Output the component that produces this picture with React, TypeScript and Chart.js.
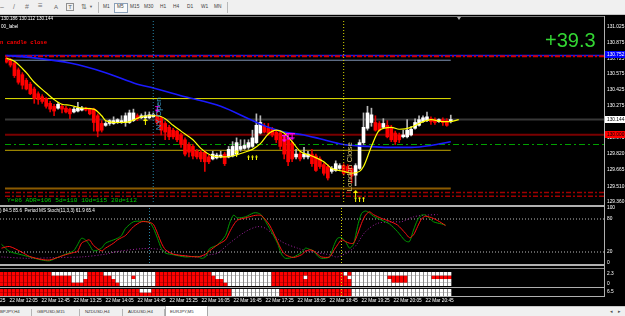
import React, { useEffect, useRef } from "react";
import { Chart, registerables } from "chart.js";

Chart.register(...registerables);

// ---------------- data (EURJPY M5, bar 0 = 22 Mar 11:55) ----------------
const candleOpen = [
  130.725,130.707,130.680,130.616,130.570,130.516,130.480,130.434,130.389,130.361,
  130.343,130.298,130.270,130.252,130.270,130.252,130.243,130.216,130.225,130.234,
  130.252,130.243,130.243,130.180,130.107,130.089,130.107,130.107,130.116,130.116,
  130.116,130.116,130.134,130.180,130.161,130.161,130.161,130.170,130.180,130.161,
  130.107,130.070,130.043,130.034,129.998,129.952,129.907,129.889,129.843,129.834,
  129.834,129.789,129.770,129.780,129.789,129.816,129.789,129.798,129.816,129.861,
  129.870,129.880,129.889,129.925,130.016,130.080,130.061,130.052,130.025,130.016,
  129.980,129.952,129.925,129.789,129.816,129.789,129.789,129.816,129.798,129.770,
  129.716,129.698,129.652,129.661,129.680,129.707,129.698,129.680,129.616,129.680,
  129.925,130.061,130.116,130.116,130.107,130.070,130.089,130.070,130.016,129.998,
  129.980,129.980,129.998,130.061,130.089,130.125,130.134,130.152,130.143,130.125,
  130.143,130.134,130.125,
];
const candleHigh = [
  130.743,130.725,130.698,130.634,130.589,130.534,130.498,130.452,130.407,130.380,
  130.352,130.316,130.289,130.307,130.289,130.270,130.252,130.261,130.307,130.270,
  130.261,130.252,130.252,130.198,130.134,130.125,130.143,130.170,130.152,130.180,
  130.207,130.234,130.243,130.198,130.198,130.216,130.216,130.207,130.198,130.170,
  130.125,130.089,130.061,130.043,130.016,129.970,129.925,129.907,129.861,129.852,
  129.852,129.807,129.843,129.825,129.843,129.834,129.889,129.934,129.970,129.952,
  129.952,129.952,130.043,130.198,130.180,130.107,130.107,130.070,130.043,130.034,
  129.998,129.970,129.943,129.861,129.834,129.880,129.843,129.861,129.816,129.789,
  129.734,129.716,129.698,129.752,129.725,129.725,129.716,129.698,129.725,129.952,
  130.207,130.270,130.252,130.180,130.125,130.152,130.134,130.089,130.034,130.016,
  130.043,130.143,130.080,130.152,130.180,130.180,130.216,130.170,130.161,130.152,
  130.161,130.152,130.186,
];
const candleLow = [
  130.680,130.643,130.543,130.480,130.434,130.425,130.380,130.298,130.289,130.298,
  130.252,130.216,130.180,130.243,130.207,130.207,130.152,130.207,130.216,130.225,
  130.225,130.189,130.034,129.980,130.025,130.080,130.089,130.098,130.107,130.107,
  130.080,130.107,130.125,130.134,130.152,130.152,130.152,130.161,130.098,129.998,
  129.952,129.952,129.961,129.934,129.880,129.798,129.789,129.770,129.770,129.743,
  129.652,129.725,129.761,129.770,129.780,129.707,129.780,129.789,129.807,129.843,
  129.861,129.861,129.880,129.916,130.007,130.016,129.998,129.980,129.925,129.861,
  129.770,129.707,129.743,129.770,129.752,129.770,129.770,129.698,129.652,129.680,
  129.616,129.570,129.634,129.652,129.670,129.616,129.634,129.543,129.516,129.670,
  129.907,130.043,130.080,130.034,130.034,130.061,129.970,129.934,129.907,129.925,
  129.970,129.970,129.989,130.052,130.080,130.116,130.125,130.098,130.098,130.116,
  130.089,130.080,130.112,
];
const candleClose = [
  130.689,130.661,130.561,130.498,130.470,130.434,130.389,130.343,130.334,130.316,
  130.270,130.243,130.225,130.289,130.243,130.216,130.198,130.243,130.252,130.252,
  130.234,130.198,130.116,130.034,130.043,130.107,130.134,130.134,130.143,130.134,
  130.180,130.207,130.207,130.152,130.180,130.180,130.189,130.189,130.116,130.043,
  130.025,129.980,129.980,129.952,129.907,129.816,129.834,129.798,129.789,129.770,
  129.743,129.743,129.816,129.807,129.807,129.725,129.861,129.889,129.925,129.889,
  129.898,129.925,129.970,130.089,130.116,130.025,130.016,129.998,129.952,129.889,
  129.816,129.743,129.770,129.816,129.770,129.816,129.816,129.725,129.661,129.698,
  129.634,129.589,129.680,129.725,129.707,129.634,129.652,129.607,129.707,129.925,
  130.070,130.207,130.189,130.043,130.043,130.107,129.980,129.952,129.934,129.952,
  129.998,130.043,130.052,130.116,130.143,130.161,130.170,130.125,130.116,130.143,
  130.116,130.089,130.144,
];

const yellowMaBars = [0,2,5,7,10,12,14,16,19,22,24,25,28,31,34,36,38,40,42,44,47,49,52,55,57,60,62,64,66,68,70,72,74,77,80,82,85,87,89,90,92,94,97,99,102,104,107,110,112,114];
const yellowMaValues = [130.725,130.698,130.589,130.498,130.398,130.334,130.289,130.280,130.252,130.243,130.180,130.134,130.116,130.125,130.170,130.180,130.180,130.152,130.089,130.034,129.952,129.870,129.798,129.789,129.798,129.834,129.861,129.916,130.007,130.043,130.016,129.934,129.843,129.798,129.743,129.680,129.652,129.634,129.652,129.698,129.889,130.043,130.070,130.052,130.070,130.107,130.143,130.125,130.125,130.143];
const blueMaBars = [0,8,16,25,33,37,45,54,62,66,70,75,79,85,91,96,102,107,112];
const blueMaValues = [130.752,130.725,130.680,130.589,130.480,130.443,130.361,130.270,130.134,130.070,130.025,129.998,129.961,129.907,129.889,129.880,129.880,129.898,129.934];

const levelPrices = [130.752, 130.746, 130.707, 130.343, 130.144, 130.0, 129.907, 129.852, 129.489, 129.452, 129.416];
const levelToLastBar = [false, false, true, true, false, false, false, true, true, false, false];

const priceTicks = [131.025, 130.875, 130.725, 130.575, 130.425, 130.275, 130.125, 129.975, 129.82, 129.665, 129.51, 129.36];
const priceBoxValues = [130.752, 130.144, 130.0];

const sessionBars = [37, 85];
const sessionLabels = ["NY Open", "London Close"];
const sessionTextStart = [130.043, 129.461];

const bigUpBars = [35, 58, 88];
const bigUpPrices = [130.125, 129.825, 129.443];
const smallUpBars = [61, 62, 63, 88, 89, 90];
const smallUpPrices = [129.78, 129.78, 129.78, 129.389, 129.389, 129.389];
const downBars = [38, 70, 71, 72];
const downPrices = [130.243, 129.961, 129.98, 129.98];

const timeTickBars = [-6, 2, 10, 18, 26, 34, 42, 50, 58, 66, 74, 82, 90, 98, 106];
const timeLabels = ["22 Mar 11:25","22 Mar 12:05","22 Mar 12:45","22 Mar 13:25","22 Mar 14:05","22 Mar 14:45","22 Mar 15:25","22 Mar 16:05","22 Mar 16:45","22 Mar 17:25","22 Mar 18:05","22 Mar 18:45","22 Mar 19:25","22 Mar 20:05","22 Mar 20:45"];

const stochBars = [0,2,5,7,10,12,14,16,18,19,20,21,22,23,25,26,28,29,30,31,33,35,37,38,39,40,41,43,46,49,50,51,52,54,56,57,58,59,61,63,64,65,67,69,70,71,73,75,76,77,78,79,80,82,83,84,85,86,87,88,89,90,91,92,93,95,97,99,101,102,103,104,105,106,108,110,111];
const stochMain = [34,21,15,11,5.5,4,10,16,22,33,45,42,33,22,27,36,42,45,50,63,75,76,74,63,45,26,18,15,11,12,8.5,11,26,33,50,72,87,82,84,91,91,87,63,36,16,8.5,11,19,27,25,22,13,8.5,11,30,45,46,39,27,34,66,90,94.5,91,85,78,71,57,40,39,60,78,87,87,75,71,69];
const stochSignal = [27,30,20,12,6.5,5.5,10,15,19,21,36,40,42,32,22,27,36,42,46,50,66,75,74,70,54,36,24,16,13,11,13,16,22,33,42,56,69,78,82,86,87,86,69,39,24,15,10,15,21,24,22,16,11,11,22,33,42,39,36,36,52,72,87,93,88,81,76,69,54,46,51,66,80,85,81,73,68];
const stochSlowBars = [0,7,14,20,26,29,35,38,40,43,49,52,54,57,61,64,66,70,74,77,82,84,88,91,94,98,100,103,106,109];
const stochSlow = [11,8.5,10,11,16,21,26,26,24,16,11,15,18,36,57,66,63,39,27,21,15,11,27,57,72,75,75,84,87,88];
const stochLevels = [80, 20];
const stochTicks = [0, 20, 80, 100];

// heat strips: run lengths per row (top row first), alternating red / white, starting red
const heatStrip1Runs = [
  [13, 9, 4, 13, 14, 15, 18, 1, 1, 25],
  [18, 4, 6, 5, 1, 5, 15, 14, 8, 1, 10, 10, 5, 6, 5],
  [18, 3, 8, 10, 17, 12, 20, 10, 4, 11],
  [30, 9, 18, 11, 20, 25],
];
const heatStrip2Runs = [
  [35, 3, 20, 12, 18, 25],
  [58, 12, 18, 25],
];

const tabNames = ["BPJPY,H4", "GBPUSD,M15", "NZDUSD,H4", "AUDUSD,H4", "EURJPY,M5"];
const timeframes = ["M1", "M5", "M15", "M30", "H1", "H4", "D1", "W1", "MN"];

// ---------------- styling ----------------
const X_MIN = -0.375;
const X_MAX = 150.625;
const LAST_BAR = candleOpen.length - 1;
const FONT = "Liberation Sans";

const levelStyles = [
  { color: "#1414ff", width: 1.5, dash: [] },
  { color: "#d00000", width: 2, dash: [5, 2, 2, 2] },
  { color: "#7f93b4", width: 1, dash: [] },
  { color: "#e6e600", width: 1, dash: [] },
  { color: "#383838", width: 2, dash: [] },
  { color: "#7a0000", width: 2, dash: [] },
  { color: "#00a000", width: 1, dash: [6, 3, 2, 3] },
  { color: "#c0a400", width: 1, dash: [] },
  { color: "#8b5a00", width: 2, dash: [] },
  { color: "#a00000", width: 1.5, dash: [5, 2, 2, 2] },
  { color: "#a00000", width: 1.5, dash: [5, 2, 2, 2] },
];
const boxBg = ["#0000ff", "#ffffff", "#ff0000"];
const boxFg = ["#ffffff", "#000000", "#000000"];
const sessionColors = ["#3a9fd0", "#d2c472"];

function expandRuns(runs: number[]): string[] {
  const out: string[] = [];
  runs.forEach((n, i) => {
    for (let j = 0; j < n; j++) out.push(i % 2 === 0 ? "r" : "w");
  });
  return out;
}

function arrowCanvas(kind: string, color: string): HTMLCanvasElement {
  const c = document.createElement("canvas");
  if (kind === "up") { c.width = 5; c.height = 7; }
  else if (kind === "small") { c.width = 3; c.height = 5; }
  else { c.width = 5; c.height = 7; }
  const g = c.getContext("2d") as CanvasRenderingContext2D;
  g.fillStyle = color;
  g.beginPath();
  if (kind === "up") {
    g.moveTo(0, 3); g.lineTo(2.5, 0); g.lineTo(5, 3); g.closePath(); g.fill();
    g.fillRect(2, 3, 1, 4);
  } else if (kind === "small") {
    g.moveTo(0, 2); g.lineTo(1.5, 0); g.lineTo(3, 2); g.closePath(); g.fill();
    g.fillRect(1, 2, 1, 3);
  } else {
    g.fillRect(0, 0, 5, 1);
    g.fillRect(2, 0, 1, 4);
    g.moveTo(0, 4); g.lineTo(5, 4); g.lineTo(2.5, 7); g.closePath(); g.fill();
  }
  return c;
}

const xAxisHidden = () => ({
  type: "linear", min: X_MIN, max: X_MAX, offset: false, bounds: "data", display: false,
});

function rightAxis(min: number, max: number, ticks: number[], fmt: (v: number) => string) {
  return {
    type: "linear", position: "right", min, max, bounds: "data", beginAtZero: false,
    grid: { display: false, drawTicks: false },
    border: { display: false },
    afterBuildTicks: (s: any) => { s.ticks = ticks.map((v) => ({ value: v })); },
    afterFit: (s: any) => { s.width = 21; s.paddingTop = 0; s.paddingBottom = 0; },
    ticks: {
      color: "#ffffff", font: { family: FONT, size: 4.8 }, padding: 3, autoSkip: false,
      callback: (v: any) => fmt(Number(v)),
    },
  };
}

function vLine(bar: number, lo: number, hi: number, color: string) {
  return {
    type: "line", data: [{ x: bar, y: lo }, { x: bar, y: hi }], borderColor: color,
    borderWidth: 1, borderDash: [1, 2], pointRadius: 0, order: 1,
  };
}

function pts(xs: number[], ys: number[]) {
  return xs.map((x, i) => ({ x, y: ys[i] }));
}

const baseOptions = (extra: any) => ({
  responsive: false,
  animation: false,
  devicePixelRatio: 1,
  events: [],
  plugins: { legend: { display: false }, tooltip: { enabled: false } },
  ...extra,
});

const mainDecor = {
  id: "mainDecor",
  afterDraw(chart: any) {
    const { ctx, scales, chartArea } = chart;
    const xs = scales.x;
    const ys = scales.y;
    ctx.save();
    ctx.font = `8px "${FONT}"`;
    ctx.textBaseline = "alphabetic";
    ctx.textAlign = "left";
    sessionBars.forEach((b, i) => {
      ctx.save();
      ctx.translate(Math.round(xs.getPixelForValue(b)) + 8, ys.getPixelForValue(sessionTextStart[i]));
      ctx.rotate(-Math.PI / 2);
      ctx.fillStyle = sessionColors[i];
      ctx.fillText(sessionLabels[i], 0, 0);
      ctx.restore();
    });
    ctx.font = `4.8px "${FONT}"`;
    ctx.textBaseline = "middle";
    priceBoxValues.forEach((v, i) => {
      const y = Math.round(ys.getPixelForValue(v));
      ctx.fillStyle = boxBg[i];
      ctx.fillRect(chartArea.right + 1, y - 4, 20, 7);
      ctx.fillStyle = boxFg[i];
      ctx.fillText(v.toFixed(3), chartArea.right + 3, y - 0.5);
    });
    ctx.restore();
  },
};

export default function App() {
  const mainRef = useRef<HTMLCanvasElement>(null);
  const stochRef = useRef<HTMLCanvasElement>(null);
  const strip1Ref = useRef<HTMLCanvasElement>(null);
  const strip2Ref = useRef<HTMLCanvasElement>(null);

  useEffect(() => {
    const charts: any[] = [];
    const upImg = arrowCanvas("up", "#ffff00");
    const smallImg = arrowCanvas("small", "#ffff00");
    const downImg = arrowCanvas("down", "#ff00ff");

    // ---------- main price pane ----------
    const bull = candleClose.map((c, i) => c >= candleOpen[i]);
    const levelSets = levelPrices.map((p, i) => ({
      type: "line",
      data: [{ x: X_MIN, y: p }, { x: levelToLastBar[i] ? LAST_BAR : X_MAX, y: p }],
      borderColor: levelStyles[i].color, borderWidth: levelStyles[i].width,
      borderDash: levelStyles[i].dash, pointRadius: 0, order: 20 - i,
    }));
    const mainMax = 131.0795;
    const mainMin = 129.3613;
    charts.push(new Chart(mainRef.current as HTMLCanvasElement, {
      type: "bar",
      data: {
        datasets: [
          ...levelSets,
          vLine(sessionBars[0], mainMin, mainMax, "#2a86a8"),
          vLine(sessionBars[1], mainMin, mainMax, "#d8d800"),
          {
            type: "bar", data: candleOpen.map((_, i) => ({ x: i, y: [candleLow[i], candleHigh[i]] })),
            backgroundColor: bull.map((b) => (b ? "#b8b8b8" : "#e00000")),
            barThickness: 1, maxBarThickness: 1, grouped: false, borderWidth: 0, order: 6,
          },
          {
            type: "bar", data: candleOpen.map((o, i) => ({ x: i, y: [o, candleClose[i]] })),
            backgroundColor: bull.map((b) => (b ? "#ffffff" : "#ff0000")),
            barThickness: 3, maxBarThickness: 3, grouped: false, borderWidth: 0, minBarLength: 1, order: 5,
          },
          {
            type: "line", data: pts(blueMaBars, blueMaValues), borderColor: "#1a1aff", borderWidth: 1.6,
            pointRadius: 0, cubicInterpolationMode: "monotone", order: 4,
          },
          {
            type: "line", data: pts(yellowMaBars, yellowMaValues), borderColor: "#ffff00", borderWidth: 1.2,
            pointRadius: 0, cubicInterpolationMode: "monotone", order: 3,
          },
          { type: "line", data: pts(bigUpBars, bigUpPrices), showLine: false, pointStyle: upImg, pointRadius: 3, order: 2 },
          { type: "line", data: pts(smallUpBars, smallUpPrices), showLine: false, pointStyle: smallImg, pointRadius: 3, order: 2 },
          { type: "line", data: pts(downBars, downPrices), showLine: false, pointStyle: downImg, pointRadius: 3, order: 2 },
        ],
      },
      options: baseOptions({
        layout: { padding: { top: 0, bottom: 2, left: 0, right: 0 } },
        scales: {
          x: xAxisHidden(),
          y: rightAxis(mainMin, mainMax, priceTicks, (v) => v.toFixed(3)),
        },
      }),
      plugins: [mainDecor],
    } as any));

    // ---------- stochastic pane ----------
    charts.push(new Chart(stochRef.current as HTMLCanvasElement, {
      type: "line",
      data: {
        datasets: [
          ...stochLevels.map((lv) => ({
            data: [{ x: X_MIN, y: lv }, { x: X_MAX, y: lv }], borderColor: "#bdbdbd", borderWidth: 1,
            borderDash: [1, 2], pointRadius: 0, order: 10,
          })),
          vLine(sessionBars[0], 0, 100, "#2a86a8"),
          vLine(sessionBars[1], 0, 100, "#d8d800"),
          { data: pts(stochSlowBars, stochSlow), borderColor: "#a020a0", borderWidth: 1, borderDash: [1, 2], pointRadius: 0, tension: 0.3, order: 5 },
          { data: pts(stochBars, stochMain), borderColor: "#009a00", borderWidth: 1, pointRadius: 0, tension: 0.25, order: 4 },
          { data: pts(stochBars, stochSignal), borderColor: "#ff1010", borderWidth: 1, pointRadius: 0, tension: 0.25, order: 3 },
        ],
      },
      options: baseOptions({
        layout: { padding: { top: 3, bottom: 2, left: 0, right: 0 } },
        scales: { x: xAxisHidden(), y: rightAxis(0, 100, stochTicks, (v) => String(v)) },
      }),
    } as any));

    // ---------- heat strips ----------
    const stripSets = (runsList: number[][]) => {
      const n = runsList.length;
      return runsList.map((runs, j) => {
        const cells = expandRuns(runs);
        const r = n - 1 - j;
        return {
          type: "bar",
          data: cells.map((_, i) => ({ x: i, y: [r - 0.42, r + 0.42] })),
          backgroundColor: cells.map((c) => (c === "r" ? "#ff0000" : "#ffffff")),
          barThickness: 3, maxBarThickness: 3, grouped: false, borderWidth: 0, order: 5,
        };
      });
    };

    charts.push(new Chart(strip1Ref.current as HTMLCanvasElement, {
      type: "bar",
      data: { datasets: [...stripSets(heatStrip1Runs), vLine(sessionBars[1], -0.5, 3.5, "#d8d800")] },
      options: baseOptions({
        layout: { padding: { top: 2, bottom: 2, left: 0, right: 21 } },
        scales: {
          x: xAxisHidden(),
          y: { type: "linear", min: -0.5, max: 3.5, bounds: "data", beginAtZero: false, display: false },
        },
      }),
    } as any));

    charts.push(new Chart(strip2Ref.current as HTMLCanvasElement, {
      type: "bar",
      data: { datasets: [...stripSets(heatStrip2Runs), vLine(sessionBars[1], -0.5, 1.5, "#d8d800")] },
      options: baseOptions({
        layout: { padding: { top: 1, bottom: 0, left: 0, right: 21 } },
        scales: {
          x: {
            type: "linear", min: X_MIN, max: X_MAX, offset: false, bounds: "data", position: "bottom",
            grid: { display: false, drawTicks: false }, border: { display: false },
            afterBuildTicks: (s: any) => { s.ticks = timeTickBars.map((v) => ({ value: v })); },
            afterFit: (s: any) => { s.height = 10; s.paddingLeft = 0; s.paddingRight = 0; },
            ticks: {
              color: "#ffffff", font: { family: FONT, size: 4.8 }, padding: 2, align: "start",
              autoSkip: false, maxRotation: 0, minRotation: 0,
              callback: (_v: any, i: number) => timeLabels[i],
            },
          },
          y: { type: "linear", min: -0.5, max: 1.5, bounds: "data", beginAtZero: false, display: false },
        },
      }),
    } as any));

    return () => charts.forEach((c) => c.destroy());
  }, []);

  const abs = (s: any) => ({ position: "absolute", ...s } as React.CSSProperties);
  const txt = (left: number, top: number, size: number, color: string, extra: any = {}) =>
    abs({ left, top, fontSize: size, lineHeight: 1, color, whiteSpace: "nowrap", fontFamily: FONT, ...extra });

  const tfLeft = [103, 117, 130, 144, 160, 173, 187, 201, 214];
  const tabLeft = [0, 37, 85, 128, 170];
  const tabSep = [31, 79, 122, 164];

  return (
    <div style={abs({ position: "fixed", left: 0, top: 0, width: 625, height: 316, background: "#000", overflow: "hidden" })}>
      {/* toolbar */}
      <div style={abs({ left: 0, top: 0, width: 625, height: 14, background: "#f0f0f0", borderBottom: "1px solid #c4c4c4" })}>
        <span style={txt(0, 3, 7, "#707070")}>–</span>
        <span style={txt(13, 3, 7, "#707070")}>/</span>
        <span style={txt(25, 3, 7, "#707070")}>#</span>
        <span style={txt(38, 2, 8, "#707070")}>≡</span>
        <span style={txt(54, 4, 6, "#606060")}>A</span>
        <span style={txt(66, 3, 6, "#606060", { border: "1px solid #909090", width: 6, height: 6, textAlign: "center" })}>T</span>
        <span style={txt(81, 3, 7, "#606060")}>⇅</span>
        <span style={txt(89, 5, 4, "#606060")}>▼</span>
        <div style={abs({ left: 98, top: 2, width: 1, height: 11, background: "#b8b8b8" })} />
        <div style={abs({ left: 114, top: 3, width: 12, height: 8, border: "1px solid #8aa0b8", background: "#fafafa" })} />
        {timeframes.map((t, i) => (
          <span key={t} style={txt(tfLeft[i], 5, 4.8, "#404040")}>{t}</span>
        ))}
        <div style={abs({ left: 227, top: 2, width: 1, height: 11, background: "#b8b8b8" })} />
      </div>

      {/* canvases */}
      <canvas ref={mainRef} width={625} height={191} style={abs({ left: 0, top: 16, width: 625, height: 191 })} />
      <canvas ref={stochRef} width={625} height={60} style={abs({ left: 0, top: 205, width: 625, height: 60 })} />
      <canvas ref={strip1Ref} width={625} height={18} style={abs({ left: 0, top: 270, width: 625, height: 18 })} />
      <canvas ref={strip2Ref} width={625} height={18} style={abs({ left: 0, top: 288, width: 625, height: 18 })} />

      {/* frame and pane separators */}
      <div style={abs({ left: 0, top: 16, width: 605, height: 1, background: "#7a7a7a" })} />
      <div style={abs({ left: 0, top: 205, width: 605, height: 2, background: "#b0b0b0" })} />
      <div style={abs({ left: 0, top: 264, width: 605, height: 2, background: "#b0b0b0" })} />
      <div style={abs({ left: 0, top: 268, width: 605, height: 1, background: "#8a8a8a" })} />
      <div style={abs({ left: 0, top: 287, width: 605, height: 1, background: "#b0b0b0" })} />
      <div style={abs({ left: 0, top: 296, width: 605, height: 1, background: "#b0b0b0" })} />
      <div style={abs({ left: 604, top: 16, width: 1, height: 281, background: "#b0b0b0" })} />
      <div style={abs({ left: 457, top: 17, width: 0, height: 0, borderLeft: "2px solid transparent", borderRight: "2px solid transparent", borderTop: "3px solid #b0b0b0" })} />

      {/* chart texts */}
      <span style={txt(1, 17, 4.6, "#ffffff")}>130.186 130.112 130.144</span>
      <span style={txt(1, 25, 4.6, "#ffffff")}>00_label</span>
      <span style={txt(0, 40, 5.6, "#ff0000", { fontFamily: "Liberation Mono", fontWeight: "bold" })}>n candle close</span>
      <span style={txt(545, 30, 20, "#33d633")}>+39.3</span>
      <span style={txt(7, 197.5, 6.2, "#00c800", { fontFamily: "Liberation Mono" })}>Y=86 ADR=106 5d=110 10d=115 20d=112</span>
      <span style={txt(0, 208.5, 4.6, "#ffffff")}>) 84.5 85.6&nbsp;&nbsp;Period MS Stoch(11,3,3) 61.9 65.4</span>
      <span style={txt(607, 271.5, 4.8, "#ffffff")}>2.3</span>
      <span style={txt(607, 281.5, 4.8, "#ffffff")}>0</span>
      <span style={txt(607, 289.5, 4.8, "#ffffff")}>6.5</span>

      {/* tabs */}
      <div style={abs({ left: 0, top: 306, width: 625, height: 10, background: "#f0f0f0", borderTop: "1px solid #c8c8c8" })}>
        <div style={abs({ left: 165, top: -1, width: 41, height: 10, background: "#ffffff", border: "1px solid #a8a8a8", borderTop: "none" })} />
        {tabSep.map((x) => (
          <div key={x} style={abs({ left: x, top: 2, width: 1, height: 7, background: "#b4b4b4" })} />
        ))}
        {tabNames.map((t, i) => (
          <span key={t} style={txt(tabLeft[i], 3, 4.3, "#303030")}>{t}</span>
        ))}
        <span style={txt(610, 2, 5, "#505050")}>◂</span>
        <span style={txt(618, 2, 5, "#505050")}>▸</span>
      </div>
    </div>
  );
}
